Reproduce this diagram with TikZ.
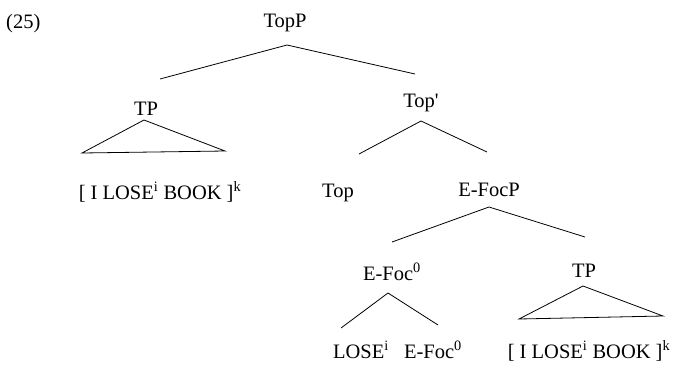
\documentclass[tikz,border=0pt]{standalone}
\usepackage{fontspec}
\newfontfamily\plainrm{Liberation Serif}
\begin{document}
\begin{tikzpicture}[x=1pt,y=-1pt,
  lbl/.style={anchor=base,inner sep=0pt,font=\plainrm\fontsize{20.5}{23}\selectfont},
  br/.style={line width=0.8pt,line join=miter}]
\useasboundingbox (0,0) rectangle (676,367);
% labels
\node[lbl,anchor=base west] (num) at (6,28) {(25)};
\node[lbl] (topp) at (285,27) {TopP};
\node[lbl] (tp1) at (146,115) {TP};
\node[lbl] (topbar) at (421,107) {Top'};
\node[lbl] (tp1txt) at (160,199) {[ I LOSE\textsuperscript{i} BOOK ]\textsuperscript{k}};
\node[lbl] (top) at (338,197) {Top};
\node[lbl] (efocp) at (489,196) {E-FocP};
\node[lbl] (efoc) at (392,280) {E-Foc\textsuperscript{0}};
\node[lbl] (tp2) at (584,277) {TP};
\node[lbl] (lose) at (361,358) {LOSE\textsuperscript{i}};
\node[lbl] (efoc2) at (433,358) {E-Foc\textsuperscript{0}};
\node[lbl] (tp2txt) at (589,358) {[ I LOSE\textsuperscript{i} BOOK ]\textsuperscript{k}};
% branch ends
\coordinate (topp-b) at (287,45);
\coordinate (tp1-t) at (160,79);
\coordinate (topbar-t) at (415,74);
\coordinate (tp1-a) at (144,120);
\coordinate (tp1-l) at (82,153);
\coordinate (tp1-r) at (225,151);
\coordinate (topbar-b) at (421,121);
\coordinate (top-t) at (359,154);
\coordinate (efocp-t) at (487,152);
\coordinate (efocp-b) at (489,207);
\coordinate (efoc-t) at (392,242);
\coordinate (tp2-t) at (585,237);
\coordinate (efoc-b) at (388,293);
\coordinate (lose-t) at (341,328);
\coordinate (efoc2-t) at (438,325);
\coordinate (tp2-a) at (583,286);
\coordinate (tp2-l) at (519,319);
\coordinate (tp2-r) at (663,316);
% branches
\draw[br] (tp1-t) -- (topp-b) -- (topbar-t);
\draw[br] (tp1-a) -- (tp1-l) -- (tp1-r) -- cycle;
\draw[br] (top-t) -- (topbar-b) -- (efocp-t);
\draw[br] (efoc-t) -- (efocp-b) -- (tp2-t);
\draw[br] (lose-t) -- (efoc-b) -- (efoc2-t);
\draw[br] (tp2-a) -- (tp2-l) -- (tp2-r) -- cycle;
\end{tikzpicture}
\end{document}
